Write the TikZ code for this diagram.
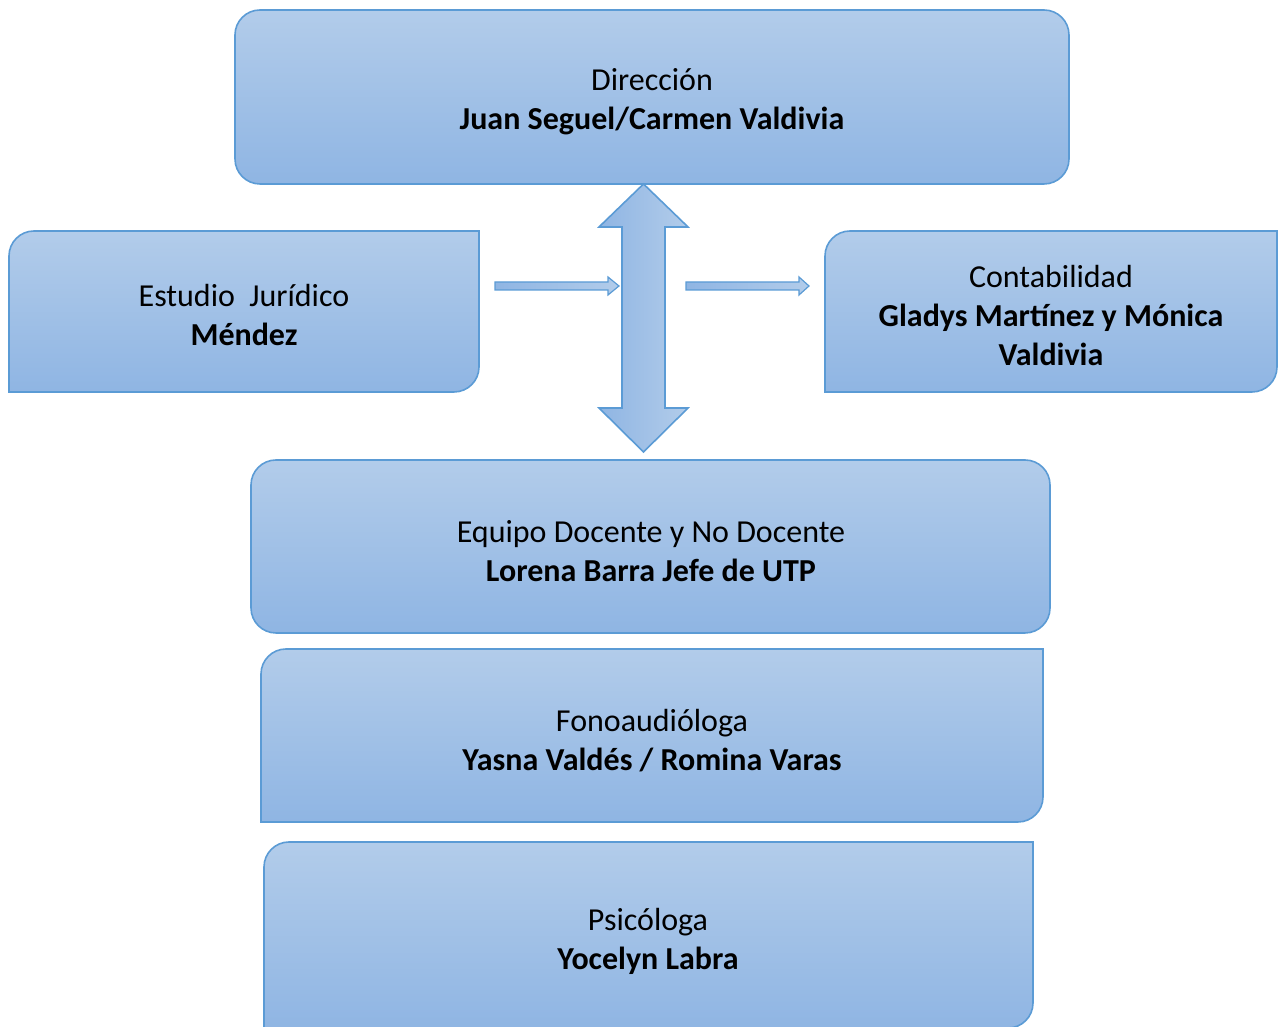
\documentclass[tikz,border=0pt]{standalone}
\usepackage{fontspec}
\setmainfont{Carlito}
\definecolor{topc}{RGB}{178,204,234}
\definecolor{botc}{RGB}{143,181,227}
\definecolor{edgec}{RGB}{91,155,213}
\tikzset{
  boxshape/.style={top color=topc, bottom color=botc, draw=edgec, line width=1.6pt},
  arrshape/.style={left color=botc, right color=topc, draw=edgec, line width=1.6pt, line join=miter},
  lbl/.style={align=center, font=\fontsize{32}{39}\selectfont, text=black, inner sep=0pt}
}
\begin{document}
\begin{tikzpicture}[x=1pt,y=1pt]
\useasboundingbox (0,0) rectangle (1280,1027);
% Direccion (all rounded)
\path[boxshape, rounded corners=25pt] (235,843) rectangle (1069,1017);
% Estudio (TL and BR rounded)
\path[boxshape] (9,635) -- (9,771) arc[start angle=180,end angle=90,radius=25pt] -- (479,796) -- (479,660) arc[start angle=0,end angle=-90,radius=25pt] -- cycle;
% Contabilidad
\path[boxshape] (825,635) -- (825,771) arc[start angle=180,end angle=90,radius=25pt] -- (1277,796) -- (1277,660) arc[start angle=0,end angle=-90,radius=25pt] -- cycle;
% Equipo (all rounded)
\path[boxshape, rounded corners=25pt] (251,394) rectangle (1050,567);
% Fono
\path[boxshape] (261,205) -- (261,353) arc[start angle=180,end angle=90,radius=25pt] -- (1043,378) -- (1043,230) arc[start angle=0,end angle=-90,radius=25pt] -- cycle;
% Psicologa
\path[boxshape] (264,-3) -- (264,160) arc[start angle=180,end angle=90,radius=25pt] -- (1033,185) -- (1033,24) arc[start angle=0,end angle=-90,radius=25pt] -- cycle;

% big double arrow
\path[arrshape] (643.5,843) -- (688,800) -- (665,800) -- (665,619) -- (688,619) -- (643.5,575) -- (599,619) -- (622,619) -- (622,800) -- (599,800) -- cycle;
% small arrows
\path[arrshape, line width=1.2pt] (495,737) -- (608,737) -- (608,732) -- (619,741) -- (608,750) -- (608,745) -- (495,745) -- cycle;
\path[arrshape, line width=1.2pt] (686,737) -- (799,737) -- (799,732) -- (809,741) -- (799,750) -- (799,745) -- (686,745) -- cycle;

\node[lbl] (dir) at (652,925.5) {Dirección\\\textbf{Juan Seguel/Carmen Valdivia}};
\node[lbl] (est) at (244,711.5) {Estudio\ \ Jurídico\\\textbf{Méndez}};
\node[lbl] (con) at (1051,711) {Contabilidad\\\textbf{Gladys Martínez y Mónica}\\\textbf{Valdivia}};
\node[lbl] (equ) at (651,476) {Equipo Docente y No Docente\\\textbf{Lorena Barra Jefe de UTP}};
\node[lbl] (fon) at (652,286.5) {Fonoaudióloga\\\textbf{Yasna Valdés / Romina Varas}};
\node[lbl] (psi) at (648,85.5) {Psicóloga\\\textbf{Yocelyn Labra}};
\end{tikzpicture}
\end{document}
